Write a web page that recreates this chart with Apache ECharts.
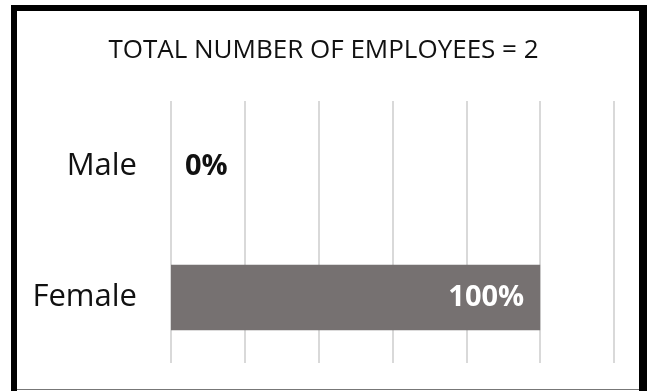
<!DOCTYPE html>
<html><head><meta charset="utf-8">
<script src="https://cdn.jsdelivr.net/npm/echarts@6/dist/echarts.min.js"></script>
<style>html,body{margin:0;padding:0;background:#fff}#c{width:647px;height:391px}</style>
</head><body><div id="c"></div>
<script>
var titleText = 'TOTAL NUMBER OF EMPLOYEES = 2';
var categories = ['Female', 'Male'];
var values = [100, 0];
var axisMax = 120;
var axisInterval = 20;

var chart = echarts.init(document.getElementById('c'), null, {renderer: 'canvas'});
var font = '"Open Sans", sans-serif';
chart.setOption({
  animation: false,
  backgroundColor: '#ffffff',
  title: {
    text: titleText, left: 'center', top: 33,
    textStyle: {fontFamily: font, fontSize: 26, fontWeight: 'normal', color: '#111'}
  },
  grid: {left: 171, right: 33, top: 101, bottom: 28, containLabel: false},
  xAxis: {
    type: 'value', min: 0, max: axisMax, interval: axisInterval,
    axisLabel: {show: false}, axisLine: {show: false}, axisTick: {show: false},
    splitLine: {show: true, lineStyle: {color: '#d9d9d9', width: 2}}
  },
  yAxis: {
    type: 'category', data: categories,
    axisLine: {show: false}, axisTick: {show: false},
    axisLabel: {fontFamily: font, fontSize: 31, color: '#111', margin: 34, padding: [4, 0, 0, 0]}
  },
  series: [{
    type: 'bar', barCategoryGap: '50%',
    itemStyle: {color: '#767171'},
    label: {
      show: true, formatter: function (p) { return p.value + '%'; },
      fontFamily: font, fontSize: 29, fontWeight: 'bold', padding: [4, 0, 0, 0]
    },
    data: values.map(function (v) {
      return v > 0
        ? {value: v, label: {position: 'insideRight', color: '#ffffff', distance: 16}}
        : {value: v, label: {position: 'right', color: '#111', distance: 14}};
    })
  }],
  graphic: [
    {type: 'rect', shape: {x: 11, y: 5, width: 6, height: 386}, style: {fill: '#000'}, silent: true},
    {type: 'rect', shape: {x: 11, y: 5, width: 635, height: 6}, style: {fill: '#000'}, silent: true},
    {type: 'rect', shape: {x: 639, y: 5, width: 8, height: 386}, style: {fill: '#000'}, silent: true},
    {type: 'rect', shape: {x: 17, y: 389, width: 622, height: 1}, style: {fill: '#777'}, silent: true}
  ]
});
</script></body></html>
